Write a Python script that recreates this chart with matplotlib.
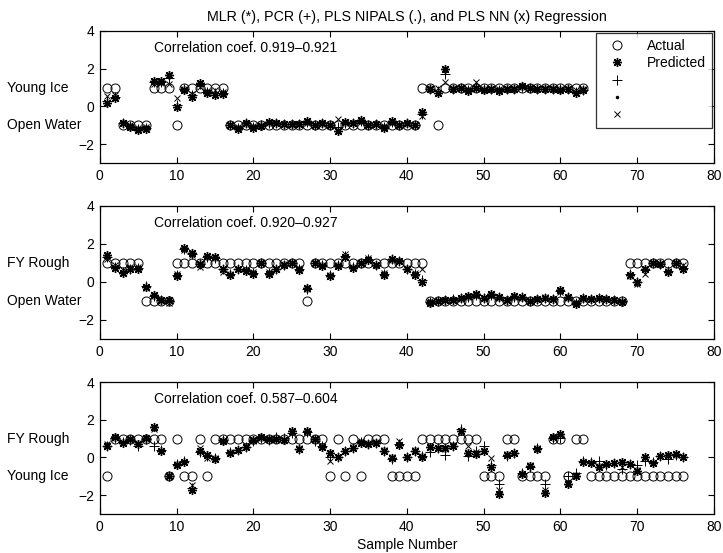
import matplotlib
matplotlib.use("Agg")
import matplotlib.pyplot as plt
import matplotlib.transforms as mtransforms

plt.rcParams["font.family"] = ["Liberation Sans", "DejaVu Sans"]
plt.rcParams["font.size"] = 10

# ---------- data: panel 1 (Young Ice / Open Water) ----------
actual1 = [1, 1, -1, -1, -1, -1, 1, 1, 1, -1, 1, 1, 1, 1, 1, 1,
           -1, -1, -1, -1, -1, -1, -1, -1, -1, -1, -1, -1, -1, -1, -1, -1, -1,
           -1, -1, -1, -1, -1, -1, -1, -1, 1, 1, -1,
           1, 1, 1, 1, 1, 1, 1, 1, 1, 1, 1, 1, 1, 1, 1, 1, 1, 1, 1]
mlr1 = [0.2, 0.45, -0.85, -1.1, -1.25, -1.2, 1.35, 1.35, 1.65, -0.05, 0.85, 0.5, 1.25, 0.7, 0.6, 0.65,
        -1.0, -1.2, -0.9, -1.15, -1.05, -0.8, -0.85, -0.95, -0.95, -0.95, -0.75, -1.0, -0.9, -1.0,
        -1.3, -0.8, -0.85, -0.7, -1.0, -0.95, -1.15, -0.75, -1.0, -0.9, -1.0, -0.3, 0.95, 0.7,
        2.0, 0.95, 1.0, 0.8, 1.0, 0.85, 0.9, 0.8, 0.9, 0.95, 1.1, 1.0, 0.9, 0.95, 0.95, 0.85, 0.9, 0.7, 0.85]
pcr1 = [0.3, 0.5, -0.9, -1.05, -1.2, -1.15, 1.3, 1.3, 1.5, 0.1, 0.9, 0.6, 1.2, 0.75, 0.7, 0.7,
        -1.0, -1.15, -0.9, -1.1, -1.0, -0.85, -0.9, -0.95, -0.95, -0.95, -0.8, -1.0, -0.9, -1.0,
        -1.1, -0.85, -0.85, -0.75, -1.0, -0.95, -1.1, -0.8, -1.0, -0.9, -1.0, -0.4, 0.95, 0.8,
        1.7, 0.95, 1.0, 0.85, 1.1, 0.9, 0.9, 0.85, 0.9, 0.95, 1.05, 1.0, 0.9, 0.95, 0.95, 0.9, 0.9, 0.75, 0.85]
nipals1 = [0.25, 0.45, -0.85, -1.1, -1.2, -1.2, 1.3, 1.35, 1.6, 0.0, 0.85, 0.55, 1.2, 0.7, 0.65, 0.65,
           -1.0, -1.2, -0.9, -1.1, -1.05, -0.8, -0.85, -0.95, -0.95, -0.95, -0.75, -1.0, -0.9, -1.0,
           -1.25, -0.8, -0.85, -0.7, -1.0, -0.95, -1.1, -0.75, -1.0, -0.9, -1.0, -0.35, 0.95, 0.75,
           1.9, 0.95, 1.0, 0.8, 1.05, 0.85, 0.9, 0.8, 0.9, 0.95, 1.1, 1.0, 0.9, 0.95, 0.95, 0.85, 0.9, 0.7, 0.85]
nn1 = [0.55, 0.6, -0.9, -1.0, -1.15, -1.1, 1.2, 1.25, 1.2, 0.45, 0.95, 0.65, 1.05, 0.8, 0.85, 0.75,
       -1.0, -1.1, -0.95, -1.05, -1.0, -0.9, -0.9, -0.95, -1.0, -0.95, -0.85, -1.0, -0.95, -1.0,
       -0.65, -0.85, -0.9, -0.8, -1.0, -0.95, -1.05, -0.85, -1.0, -0.95, -1.0, -0.5, 1.0, 1.0,
       1.3, 1.0, 1.0, 0.9, 1.3, 0.95, 0.95, 0.9, 0.95, 1.0, 1.05, 1.0, 0.95, 1.0, 1.0, 0.9, 0.95, 0.85, 0.9]

# ---------- data: panel 2 (FY Rough / Open Water) ----------
actual2 = [1, 1, 1, 1, 1, -1, -1, -1, -1,
           1, 1, 1, 1, 1, 1, 1, 1, 1, 1, 1, 1, 1, 1, 1, 1, 1, -1,
           1, 1, 1, 1, 1, 1, 1, 1, 1, 1, 1, 1, 1, 1, 1,
           -1, -1, -1, -1, -1, -1, -1, -1, -1, -1, -1, -1, -1, -1, -1, -1, -1, -1, -1, -1, -1, -1, -1, -1, -1, -1,
           1, 1, 1, 1, 1, 1, 1, 1]
mlr2 = [1.4, 0.75, 0.45, 0.65, 0.7, -0.25, -0.7, -0.95, -0.95,
        0.3, 1.8, 1.5, 0.95, 1.35, 1.3, 0.7, 0.35, 0.65, 0.55, 0.4, 1.0, 0.4, 0.65, 0.9, 1.0, 0.6, -0.3,
        1.0, 0.85, 0.3, 0.85, 1.3, 0.75, 1.0, 1.15, 0.9, 0.35, 1.2, 1.1, 0.65, 0.35, 0.0,
        -1.1, -1.0, -0.95, -0.95, -0.85, -0.75, -0.65, -0.85, -0.65, -0.8, -0.95, -0.75, -0.8, -1.0,
        -0.9, -0.85, -0.9, -0.45, -0.8, -1.15, -0.85, -0.9, -0.85, -0.9, -0.95, -1.05,
        0.35, 0.0, 0.65, 1.0, 0.95, 0.5, 1.0, 0.7]
pcr2 = [1.3, 0.8, 0.5, 0.7, 0.75, -0.2, -0.75, -0.95, -1.0,
        0.35, 1.75, 1.45, 0.95, 1.3, 1.25, 0.65, 0.4, 0.7, 0.6, 0.45, 1.0, 0.45, 0.7, 0.9, 1.0, 0.65, -0.35,
        1.0, 0.9, 0.35, 0.9, 1.35, 0.8, 1.0, 1.2, 0.9, 0.4, 1.2, 1.1, 0.7, 0.4, 0.1,
        -1.05, -1.0, -0.95, -0.9, -0.85, -0.8, -0.7, -0.85, -0.7, -0.8, -0.95, -0.8, -0.8, -1.0,
        -0.9, -0.85, -0.9, -0.5, -0.8, -1.1, -0.85, -0.9, -0.85, -0.9, -0.95, -1.0,
        0.4, 0.0, 0.6, 1.0, 0.95, 0.55, 1.0, 0.75]
nipals2 = [1.35, 0.75, 0.45, 0.65, 0.7, -0.25, -0.7, -0.95, -0.95,
           0.3, 1.8, 1.5, 0.95, 1.35, 1.3, 0.7, 0.35, 0.65, 0.55, 0.4, 1.0, 0.4, 0.65, 0.9, 1.0, 0.6, -0.3,
           1.0, 0.85, 0.3, 0.85, 1.3, 0.75, 1.0, 1.15, 0.9, 0.35, 1.2, 1.1, 0.65, 0.35, 0.0,
           -1.1, -1.0, -0.95, -0.95, -0.85, -0.75, -0.65, -0.85, -0.65, -0.8, -0.95, -0.75, -0.8, -1.0,
           -0.9, -0.85, -0.9, -0.45, -0.8, -1.15, -0.85, -0.9, -0.85, -0.9, -0.95, -1.05,
           0.35, 0.0, 0.65, 1.0, 0.95, 0.5, 1.0, 0.7]
nn2 = [1.2, 0.9, 0.6, 0.8, 0.8, -0.3, -0.75, -1.0, -1.1,
       0.4, 1.7, 1.4, 0.8, 1.3, 1.25, 0.5, 0.4, 0.7, 0.6, 0.5, 1.0, 0.5, 0.7, 0.95, 1.0, 0.75, -0.35,
       1.0, 0.9, 0.35, 0.9, 1.45, 0.8, 1.0, 1.25, 0.9, 0.45, 1.15, 1.1, 0.75, 0.45, 0.7,
       -1.0, -1.0, -0.95, -0.95, -0.9, -0.8, -0.75, -0.85, -0.75, -0.85, -0.95, -0.8, -0.85, -1.0,
       -0.9, -0.8, -0.9, -0.55, -0.85, -1.05, -0.9, -0.9, -0.85, -0.9, -0.95, -1.0,
       0.3, -0.1, 0.4, 1.0, 0.95, 0.55, 1.0, 0.9]

# ---------- data: panel 3 (FY Rough / Young Ice) ----------
actual3 = [-1, 1, 1, 1, 1, 1, 1, 1, -1, 1, -1, -1, 1, -1,
           1, 1, 1, 1, 1, 1, 1, 1, 1, 1, 1, 1, 1, 1, 1,
           -1, 1, -1, 1, -1, 1, 1, 1, -1, -1, -1, -1,
           1, 1, 1, 1, 1, 1, 1, 1, -1, -1, -1, 1, 1, -1, -1, -1, -1, 1, 1, -1, 1, 1,
           -1, -1, -1, -1, -1, -1, -1, -1, -1, -1, -1, -1, -1]
mlr3 = [0.63, 1.1, 0.76, 0.99, 0.72, 1.06, 1.6, 0.32, -1.0, -0.39, -0.24, -1.71, 0.32, 0.14,
        -0.07, 0.88, 0.25, 0.4, 0.55, 0.93, 1.1, 1.0, 1.0, 0.93, 1.38, 0.45, 1.41, 0.97, 0.58,
        0.23, 0.05, 0.32, 0.5, 0.76, 0.7, 0.76, 0.32, -0.05, 0.67, 0.0, 0.32,
        0.05, 0.58, 0.5, 0.5, 0.63, 1.41, 0.23, 0.18, 0.32, -0.53, -1.92, 0.14, 0.23, -0.88, -0.44,
        0.46, -1.88, 1.11, 1.23, -1.41, -1.0, -0.24, -0.27, -0.5, -0.37, -0.3, -0.24, -0.37, -0.72,
        0.0, -0.3, 0.1, 0.14, 0.18, 0.05]
pcr3 = [0.6, 1.05, 0.8, 0.95, 0.6, 1.0, 0.6, 0.4, -1.0, -0.35, -0.2, -1.6, 0.3, 0.1,
        -0.05, 0.95, 0.3, 0.4, 0.55, 0.9, 1.05, 0.95, 1.1, 1.05, 1.3, 0.45, 1.35, 0.9, 0.6,
        0.0, 0.05, 0.35, 0.5, 0.8, 0.7, 0.75, 0.35, -0.1, 0.7, 0.0, 0.35,
        0.1, 0.3, 0.5, 0.15, 0.6, 1.5, 0.1, 0.35, 0.6, -0.4, -1.4, 0.1, 0.25, -0.8, -0.5,
        0.5, -1.4, 1.05, 1.05, -1.0, -0.8, -0.2, -0.25, -0.2, -0.4, -0.3, -0.6, -0.35, -0.4,
        -0.2, -0.25, 0.1, -0.1, 0.15, 0.05]
nipals3 = [0.63, 1.1, 0.76, 0.99, 0.72, 1.06, 1.55, 0.32, -1.0, -0.39, -0.24, -1.7, 0.32, 0.14,
           -0.07, 0.88, 0.25, 0.4, 0.55, 0.93, 1.1, 1.0, 1.0, 0.93, 1.38, 0.45, 1.4, 0.97, 0.58,
           0.23, 0.05, 0.32, 0.5, 0.76, 0.7, 0.76, 0.32, -0.05, 0.67, 0.0, 0.32,
           0.05, 0.58, 0.5, 0.5, 0.63, 1.4, 0.3, 0.18, 0.32, -0.5, -1.9, 0.14, 0.23, -0.88, -0.44,
           0.46, -1.85, 1.11, 1.23, -1.4, -1.0, -0.24, -0.27, -0.5, -0.37, -0.3, -0.24, -0.37, -0.72,
           0.0, -0.3, 0.1, 0.14, 0.18, 0.05]
nn3 = [0.7, 1.05, 0.8, 0.95, 0.75, 1.0, 1.5, 0.35, -0.95, -0.35, -0.25, -1.45, 0.5, -0.05,
       -0.05, 0.9, 0.3, 0.4, 0.6, 0.9, 1.05, 1.0, 1.0, 0.95, 1.3, 0.5, 1.35, 0.95, 0.6,
       -0.2, 0.05, 0.35, 0.55, 0.9, 0.75, 0.8, 0.4, 0.0, 0.9, 0.0, 0.4,
       0.1, 0.55, 0.5, 0.45, 0.65, 1.35, 0.6, 0.3, 0.35, -0.05, -1.75, 0.2, 0.25, -0.85, -0.4,
       0.5, -1.75, 1.1, 1.2, -1.3, -0.95, -0.25, -0.3, -0.45, -0.35, -0.3, -0.5, -0.35, -0.65,
       0.0, -0.3, 0.1, 0.1, 0.15, 0.05]

panels = [
    (actual1, mlr1, pcr1, nipals1, nn1, "Correlation coef. 0.919\u20130.921", "Young Ice", "Open Water"),
    (actual2, mlr2, pcr2, nipals2, nn2, "Correlation coef. 0.920\u20130.927", "FY Rough", "Open Water"),
    (actual3, mlr3, pcr3, nipals3, nn3, "Correlation coef. 0.587\u20130.604", "FY Rough", "Young Ice"),
]
boxes = [(0.705, 0.239), (0.387, 0.241), (0.0705, 0.2385)]

fig = plt.figure(figsize=(7.23, 5.53), dpi=100)
star = (8, 2, 0)

for i, ((act, mlr, pcr, nip, nn, corr, lab_hi, lab_lo), (bot, h)) in enumerate(zip(panels, boxes)):
    ax = fig.add_axes([0.138, bot, 0.8495, h])
    x = list(range(1, len(act) + 1))
    ax.plot(x, act, "o", ms=6.5, mfc="none", mec="k", mew=0.7, ls="none", label="Actual")
    ax.plot(x, mlr, marker=star, ms=6.5, color="k", mew=1.0, ls="none", label="Predicted")
    ax.plot(x, pcr, "+", ms=6.5, color="k", mew=0.7, ls="none", label=" ")
    ax.plot(x, nip, ".", ms=3, color="k", ls="none", label=" ")
    ax.plot(x, nn, "x", ms=5, color="k", mew=0.7, ls="none", label=" ")

    ax.set_xlim(0, 80)
    ax.set_ylim(-3, 4)
    ax.set_xticks(range(0, 81, 10))
    ax.set_yticks([-2, 0, 2, 4])
    ax.tick_params(direction="in", top=True, right=True, length=4, labelsize=10, pad=4)
    for s in ax.spines.values():
        s.set_linewidth(0.9)

    ax.text(7, 3.1, corr, fontsize=10, va="center")
    trans = mtransforms.blended_transform_factory(ax.transAxes, ax.transData)
    ax.text(-0.151, 1, lab_hi, transform=trans, fontsize=10, va="center", ha="left")
    ax.text(-0.151, -1, lab_lo, transform=trans, fontsize=10, va="center", ha="left")

    if i == 0:
        ax.set_title("MLR (*), PCR (+), PLS NIPALS (.), and PLS NN (x) Regression",
                     fontsize=10.3, pad=7)
        leg = ax.legend(loc="upper right", fontsize=10, frameon=True, fancybox=False,
                        edgecolor="k", handletextpad=1.0, handlelength=2.2, borderpad=0.45,
                        labelspacing=0.22, borderaxespad=0.15)
        leg.get_frame().set_linewidth(0.9)
    if i == 2:
        ax.set_xlabel("Sample Number", fontsize=10, labelpad=3)

fig.savefig("out.png", dpi=100)
